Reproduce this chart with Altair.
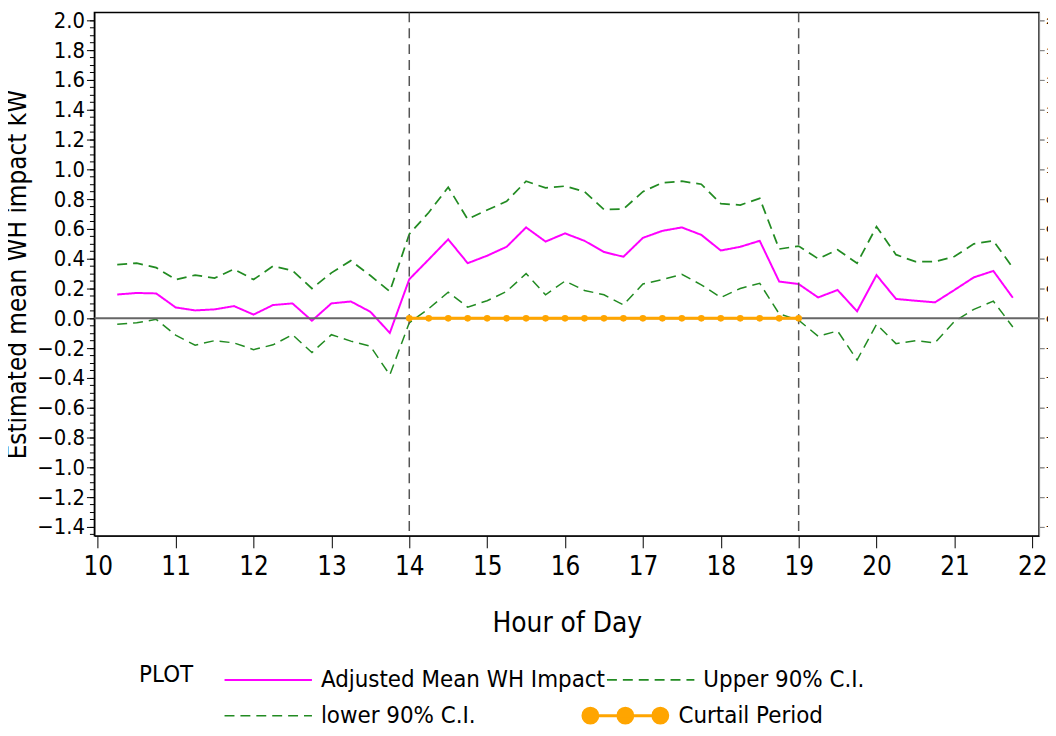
import altair as alt
import pandas as pd

hours = [10.25, 10.5, 10.75, 11.0, 11.25, 11.5, 11.75, 12.0, 12.25, 12.5, 12.75,
         13.0, 13.25, 13.5, 13.75, 14.0, 14.25, 14.5, 14.75, 15.0, 15.25, 15.5,
         15.75, 16.0, 16.25, 16.5, 16.75, 17.0, 17.25, 17.5, 17.75, 18.0, 18.25,
         18.5, 18.75, 19.0, 19.25, 19.5, 19.75, 20.0, 20.25, 20.5, 20.75, 21.0,
         21.25, 21.5, 21.75]

mean_impact = [0.16, 0.17, 0.167, 0.073, 0.053, 0.06, 0.082, 0.025, 0.089, 0.10,
               -0.016, 0.10, 0.113, 0.044, -0.098,
               0.262, 0.395, 0.53, 0.37, 0.42, 0.48, 0.61, 0.515, 0.57, 0.52,
               0.445, 0.413, 0.54, 0.587, 0.61, 0.56, 0.455, 0.48, 0.52, 0.247,
               0.23, 0.14, 0.19, 0.047, 0.29, 0.13, 0.118, 0.107, 0.19, 0.275,
               0.318, 0.138]

upper_ci = [0.36, 0.37, 0.34, 0.26, 0.29, 0.27, 0.33, 0.26, 0.35, 0.32, 0.20,
            0.305, 0.387, 0.287, 0.18,
            0.565, 0.71, 0.88, 0.665, 0.727, 0.785, 0.92, 0.875, 0.887, 0.85,
            0.73, 0.733, 0.85, 0.91, 0.92, 0.90, 0.77, 0.76, 0.805, 0.465,
            0.485, 0.40, 0.46, 0.37, 0.615, 0.427, 0.38, 0.38, 0.415, 0.50,
            0.52, 0.34]

lower_ci = [-0.04, -0.03, -0.007, -0.113, -0.18, -0.15, -0.165, -0.21, -0.178,
            -0.11, -0.23, -0.11, -0.153, -0.187, -0.38,
            -0.03, 0.065, 0.175, 0.075, 0.118, 0.18, 0.30, 0.158, 0.25, 0.187,
            0.158, 0.09, 0.23, 0.26, 0.295, 0.225, 0.14, 0.20, 0.235, 0.03,
            -0.013, -0.12, -0.085, -0.28, -0.04, -0.17, -0.15, -0.165, -0.02,
            0.06, 0.115, -0.058]

curtail_hours = [14.0, 14.25, 14.5, 14.75, 15.0, 15.25, 15.5, 15.75, 16.0, 16.25,
                 16.5, 16.75, 17.0, 17.25, 17.5, 17.75, 18.0, 18.25, 18.5, 18.75,
                 19.0]
curtail_values = [0.0] * len(curtail_hours)

curtail_bounds = [14.0, 19.0]

x_tick_values = [10, 10.5, 11, 11.5, 12, 12.5, 13, 13.5, 14, 14.5, 15, 15.5, 16,
                 16.5, 17, 17.5, 18, 18.5, 19, 19.5, 20, 20.5, 21, 21.5, 22]
y_tick_values = [-1.4, -1.2, -1.0, -0.8, -0.6, -0.4, -0.2, 0.0, 0.2, 0.4, 0.6,
                 0.8, 1.0, 1.2, 1.4, 1.6, 1.8, 2.0]
y_minor_values = [round(-1.45 + 0.05 * i, 2) for i in range(70)]

SERIES = ["Adjusted Mean WH Impact", "Upper 90% C.I.", "lower 90% C.I."]
COLORS = ["#FF00FF", "#228B22", "#228B22"]
DASHES = [[1, 0], [10, 6], [10, 6]]
WIDTHS = [2, 1.5, 1.5]
CURTAIL_LABEL = "Curtail Period"

rows = []
for h, v in zip(hours, mean_impact):
    rows.append({"hour": h, "value": v, "series": SERIES[0]})
for h, v in zip(hours, upper_ci):
    rows.append({"hour": h, "value": v, "series": SERIES[1]})
for h, v in zip(hours, lower_ci):
    rows.append({"hour": h, "value": v, "series": SERIES[2]})
df = pd.DataFrame(rows)
df_curtail = pd.DataFrame({"hour": curtail_hours, "value": curtail_values,
                           "kind": [CURTAIL_LABEL] * len(curtail_hours)})
df_bounds = pd.DataFrame({"hour": curtail_bounds})
df_zero = pd.DataFrame({"value": [0.0]})

FONT = "'DejaVu Sans Condensed', 'Liberation Sans Narrow', 'DejaVu Sans', sans-serif"

x_scale = alt.Scale(domain=[9.957, 22.087], nice=False, zero=False)
y_scale = alt.Scale(domain=[-1.46, 2.053], nice=False, zero=False)

CURTAIL_PATH = ("M-1,0L1,0"
                "M-0.97,0a0.17,0.17 0 1,0 0.34,0a0.17,0.17 0 1,0 -0.34,0"
                "M-0.17,0a0.17,0.17 0 1,0 0.34,0a0.17,0.17 0 1,0 -0.34,0"
                "M0.63,0a0.17,0.17 0 1,0 0.34,0a0.17,0.17 0 1,0 -0.34,0")

legend_main = alt.Legend(
    title="PLOT", orient="none", legendX=45, legendY=655,
    columns=2, direction="horizontal",
    titleOrient="left", titleAnchor="start", titleBaseline="top",
    titleFont=FONT, titleFontSize=24, titleFontWeight="normal", titleColor="black",
    titlePadding=30,
    symbolType="stroke", symbolSize=7744, symbolStrokeWidth=2, clipHeight=34,
    labelFont=FONT, labelFontSize=24, labelColor="black", labelLimit=600,
    labelOffset=8, columnPadding=-22, rowPadding=2,
)

legend_curtail = alt.Legend(
    title=None, orient="none", legendX=489, legendY=691,
    symbolType=CURTAIL_PATH, symbolSize=7744, symbolStrokeWidth=3,
    symbolStrokeColor="#FFA500", symbolFillColor="#FFA500", symbolOpacity=1,
    clipHeight=34,
    labelFont=FONT, labelFontSize=24, labelColor="black", labelLimit=600,
    labelOffset=8,
)

x_axis = alt.Axis(
    values=x_tick_values,
    labelExpr="datum.value % 1 === 0 ? datum.value : ''",
    title="Hour of Day", grid=False, tickSize=12, tickColor="black",
    domainColor="black", labelFont=FONT, labelFontSize=26, labelColor="black",
    labelPadding=6, titleFont=FONT, titleFontSize=28, titleFontWeight="normal",
    titleColor="black", titlePadding=30, labelFlush=False,
)
y_axis = alt.Axis(
    values=y_tick_values, format=".1f",
    title="Estimated mean WH impact kW", grid=False, tickSize=8,
    tickColor="black", domainColor="black", labelFont=FONT, labelFontSize=22,
    labelColor="black", labelPadding=2, titleFont=FONT, titleFontSize=26,
    titleFontWeight="normal", titleColor="black", titlePadding=6, labelFlush=False,
)
y_minor_axis = alt.Axis(
    values=y_minor_values, labels=False, title=None, grid=False, tickSize=5,
    tickColor="black", domain=False, orient="left",
)

lines = alt.Chart(df).mark_line().encode(
    x=alt.X("hour:Q", scale=x_scale, axis=x_axis),
    y=alt.Y("value:Q", scale=y_scale, axis=y_axis),
    color=alt.Color("series:N", scale=alt.Scale(domain=SERIES, range=COLORS), legend=legend_main),
    strokeDash=alt.StrokeDash("series:N", scale=alt.Scale(domain=SERIES, range=DASHES), legend=legend_main),
    strokeWidth=alt.StrokeWidth("series:N", scale=alt.Scale(domain=SERIES, range=WIDTHS), legend=None),
)

zero_rule = alt.Chart(df_zero).mark_rule(color="#666666", strokeWidth=2).encode(
    y=alt.Y("value:Q", scale=y_scale, axis=y_minor_axis),
)

bound_rules = alt.Chart(df_bounds).mark_rule(
    color="#555555", strokeWidth=1.5, strokeDash=[10, 6]
).encode(x=alt.X("hour:Q", scale=x_scale))

curtail_line = alt.Chart(df_curtail).mark_line(color="#FFA500", strokeWidth=3).encode(
    x=alt.X("hour:Q", scale=x_scale),
    y=alt.Y("value:Q", scale=y_scale),
)

curtail_points = alt.Chart(df_curtail).mark_circle(size=45, opacity=1).encode(
    x=alt.X("hour:Q", scale=x_scale),
    y=alt.Y("value:Q", scale=y_scale),
    fill=alt.Fill("kind:N", scale=alt.Scale(domain=[CURTAIL_LABEL], range=["#FFA500"]),
                  legend=legend_curtail),
)

chart = alt.layer(lines, zero_rule, bound_rules, curtail_line, curtail_points).resolve_axis(
    y="independent"
).properties(
    width=951, height=527,
    padding={"left": 87, "top": 2, "right": 9, "bottom": 191},
    autosize=alt.AutoSizeParams(type="none"),
    background="white",
).configure_view(stroke="black", strokeWidth=1.5)

chart.save("out.html", embed_options={"renderer": "svg", "actions": False})
